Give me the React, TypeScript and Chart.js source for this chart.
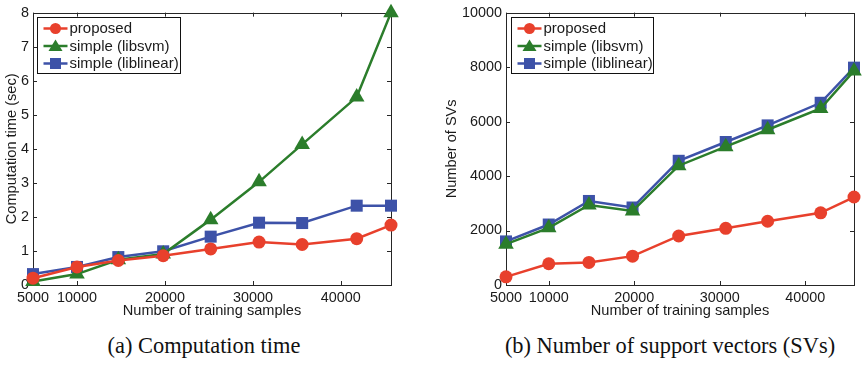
import React, { useEffect, useRef } from "react";
import { Chart, registerables } from "chart.js";

Chart.register(...registerables);

// ---- Data ----
const samples = [5000, 10000, 14700, 19800, 25200, 30700, 35600, 41800, 45700];
const xTickValues = [5000, 10000, 20000, 30000, 40000];

const timeProposed = [0.2, 0.53, 0.72, 0.86, 1.06, 1.26, 1.19, 1.36, 1.76];
const timeLibsvm = [0.1, 0.32, 0.74, 0.91, 1.92, 3.03, 4.13, 5.52, 8.0];
const timeLiblinear = [0.32, 0.53, 0.82, 0.99, 1.42, 1.83, 1.82, 2.33, 2.33];
const timeTicks = [0, 1, 2, 3, 4, 5, 6, 7, 8];

const svProposed = [300, 780, 830, 1060, 1800, 2080, 2340, 2650, 3230];
const svLibsvm = [1500, 2100, 2940, 2720, 4380, 5080, 5700, 6480, 7860];
const svLiblinear = [1600, 2220, 3085, 2845, 4560, 5250, 5860, 6690, 7980];
const svTicks = [0, 2000, 4000, 6000, 8000, 10000];

const seriesLabels = ["proposed", "simple (libsvm)", "simple (liblinear)"];
const seriesColors = ["#e8402c", "#2b7d2b", "#3d52a8"];
const seriesMarkers = ["circle", "triangle", "rect"];
const seriesRadius = [6.5, 9, 8.5];

const FONT = "'Liberation Sans', Arial, Helvetica, sans-serif";
const AXIS = "#262626";

const matlabPlugin = {
  id: "matlabFrame",
  beforeDatasetsDraw(chart: any) {
    const { ctx, chartArea: a, scales } = chart;
    ctx.save();
    ctx.strokeStyle = AXIS;
    ctx.lineWidth = 1;
    const tl = 4;
    ctx.beginPath();
    scales.x.ticks.forEach((t: any) => {
      const px = Math.round(scales.x.getPixelForValue(t.value)) + 0.5;
      ctx.moveTo(px, a.bottom);
      ctx.lineTo(px, a.bottom - tl);
      ctx.moveTo(px, a.top);
      ctx.lineTo(px, a.top + tl);
    });
    scales.y.ticks.forEach((t: any) => {
      const py = Math.round(scales.y.getPixelForValue(t.value)) + 0.5;
      ctx.moveTo(a.left, py);
      ctx.lineTo(a.left + tl, py);
      ctx.moveTo(a.right, py);
      ctx.lineTo(a.right - tl, py);
    });
    ctx.stroke();
    ctx.strokeRect(Math.round(a.left) + 0.5, Math.round(a.top) + 0.5, Math.round(a.right - a.left), Math.round(a.bottom - a.top));
    ctx.restore();
  },
  afterDraw(chart: any, _args: any, opts: any) {
    const { ctx, chartArea: a } = chart;
    const bx = Math.round(a.left + opts.dx) + 0.5;
    const by = Math.round(a.top + opts.dy) + 0.5;
    const bw = opts.w;
    const bh = 56;
    ctx.save();
    ctx.fillStyle = "#ffffff";
    ctx.fillRect(bx, by, bw, bh);
    ctx.strokeStyle = "#111";
    ctx.lineWidth = 1;
    ctx.strokeRect(bx, by, bw, bh);
    chart.data.datasets.forEach((ds: any, i: number) => {
      const cy = by + 11 + i * 17.5;
      ctx.strokeStyle = ds.borderColor;
      ctx.lineWidth = 2.5;
      ctx.beginPath();
      ctx.moveTo(bx + 6, cy);
      ctx.lineTo(bx + 30, cy);
      ctx.stroke();
      ctx.fillStyle = ds.backgroundColor;
      ctx.beginPath();
      const s = ds.pointStyle;
      if (s === "circle") {
        ctx.arc(bx + 18, cy, 5.5, 0, Math.PI * 2);
      } else if (s === "triangle") {
        ctx.moveTo(bx + 18, cy - 6.5);
        ctx.lineTo(bx + 25, cy + 5);
        ctx.lineTo(bx + 11, cy + 5);
        ctx.closePath();
      } else {
        ctx.rect(bx + 12.5, cy - 5.5, 11, 11);
      }
      ctx.fill();
      ctx.fillStyle = "#1a1a1a";
      ctx.font = `15px ${FONT}`;
      ctx.textBaseline = "middle";
      ctx.textAlign = "left";
      ctx.fillText(ds.label, bx + 32, cy + 0.5);
    });
    ctx.restore();
  },
};

function makeDatasets(series: number[][]) {
  return series.map((vals, i) => ({
    label: seriesLabels[i],
    data: samples.map((x, j) => ({ x, y: vals[j] })),
    borderColor: seriesColors[i],
    backgroundColor: seriesColors[i],
    pointBackgroundColor: seriesColors[i],
    pointBorderColor: seriesColors[i],
    pointStyle: seriesMarkers[i],
    pointRadius: seriesRadius[i],
    pointBorderWidth: 0,
    borderWidth: 2.5,
    tension: 0,
    clip: false,
  }));
}

interface PanelProps {
  width: number;
  height: number;
  series: number[][];
  yTicks: number[];
  yTitle: string;
  yAxisWidth: number;
  yTitlePad: number;
  padRight: number;
  legendDx: number;
  legendW: number;
}

function Panel(p: PanelProps) {
  const ref = useRef<HTMLCanvasElement>(null);
  useEffect(() => {
    if (!ref.current) return;
    const chart = new Chart(ref.current, {
      type: "line",
      data: { datasets: makeDatasets(p.series) as any },
      plugins: [matlabPlugin],
      options: {
        responsive: false,
        animation: false,
        devicePixelRatio: 1,
        layout: { padding: { top: 7, right: p.padRight, left: 0, bottom: 0 } },
        plugins: {
          legend: { display: false },
          tooltip: { enabled: false },
          matlabFrame: { dx: p.legendDx, dy: 4, w: p.legendW },
        } as any,
        scales: {
          x: {
            type: "linear",
            min: samples[0],
            max: samples[samples.length - 1],
            afterBuildTicks: (s: any) => {
              s.ticks = xTickValues.map((v) => ({ value: v }));
            },
            afterFit: (s: any) => {
              s.height = 45;
            },
            grid: { display: false, drawTicks: false },
            border: { display: false },
            ticks: {
              padding: 4,
              color: "#1a1a1a",
              font: { family: FONT, size: 14.4 },
              maxRotation: 0,
              autoSkip: false,
              callback: (v: any) => String(v),
            },
            title: {
              display: true,
              text: "Number of training samples",
              color: "#1a1a1a",
              font: { family: FONT, size: 14.6 },
              padding: { top: 0, bottom: 10 },
            },
          },
          y: {
            type: "linear",
            min: p.yTicks[0],
            max: p.yTicks[p.yTicks.length - 1],
            afterBuildTicks: (s: any) => {
              s.ticks = p.yTicks.map((v) => ({ value: v }));
            },
            afterFit: (s: any) => {
              s.width = p.yAxisWidth;
            },
            grid: { display: false, drawTicks: false },
            border: { display: false },
            ticks: {
              padding: 4,
              color: "#1a1a1a",
              font: { family: FONT, size: 14.4 },
              autoSkip: false,
              callback: (v: any) => String(v),
            },
            title: {
              display: true,
              text: p.yTitle,
              color: "#1a1a1a",
              font: { family: FONT, size: 14.6 },
              padding: { top: p.yTitlePad, bottom: 0 },
            },
          },
        },
      } as any,
    });
    return () => chart.destroy();
  }, []);
  return <canvas ref={ref} width={p.width} height={p.height} style={{ display: "block", width: p.width, height: p.height }} />;
}

const captionStyle: React.CSSProperties = {
  position: "absolute",
  top: 335,
  fontFamily: "'Liberation Serif', 'Times New Roman', serif",
  fontSize: 22.4,
  lineHeight: "22px",
  color: "#111",
  whiteSpace: "nowrap",
  transform: "translateX(-50%)",
};

export default function App() {
  return (
    <div style={{ position: "fixed", left: 0, top: 0, width: 863, height: 365, background: "#fff", overflow: "hidden" }}>
      <div style={{ position: "absolute", left: 0, top: 0 }}>
        <Panel
          width={430}
          height={330}
          series={[timeProposed, timeLibsvm, timeLiblinear]}
          yTicks={timeTicks}
          yTitle="Computation time (sec)"
          yAxisWidth={33}
          yTitlePad={3}
          padRight={39}
          legendDx={4}
          legendW={143}
        />
      </div>
      <div style={{ position: "absolute", left: 430, top: 0 }}>
        <Panel
          width={433}
          height={330}
          series={[svProposed, svLibsvm, svLiblinear]}
          yTicks={svTicks}
          yTitle="Number of SVs"
          yAxisWidth={76}
          yTitlePad={13}
          padRight={4}
          legendDx={5}
          legendW={142}
        />
      </div>
      <div style={{ ...captionStyle, left: 204 }}>(a) Computation time</div>
      <div style={{ ...captionStyle, left: 670 }}>(b) Number of support vectors (SVs)</div>
    </div>
  );
}
